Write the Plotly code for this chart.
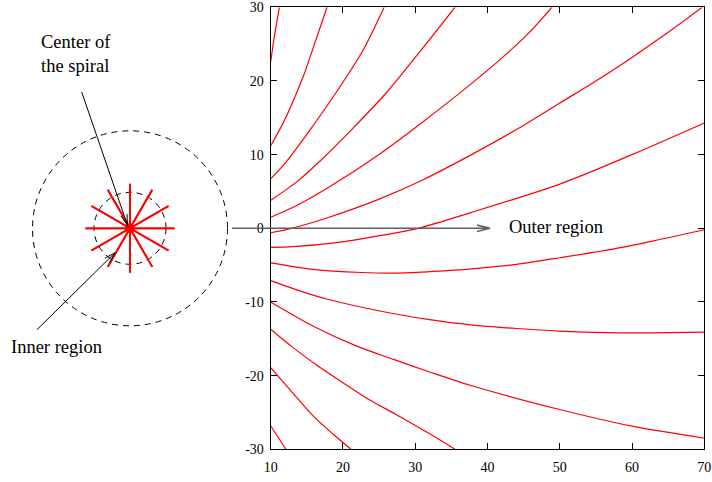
import math
import plotly.graph_objects as go

# ---- spiral arms seen in the outer region (x, y pairs per arm) ----
arm01_x = [10, 10.5, 11.2]
arm01_y = [22.6, 26.0, 30.0]
arm02_x = [10, 11.3, 12.4, 14.5, 16.4, 17.8]
arm02_y = [11.2, 13.5, 15.7, 20.6, 26.0, 30.0]
arm03_x = [10, 12.2, 15.4, 19.1, 22.8, 25.7]
arm03_y = [6.7, 9.1, 13.3, 18.5, 24.2, 30.0]
arm04_x = [10, 13.6, 16.8, 21.2, 26.0, 30.5, 35.5]
arm04_y = [3.8, 6.3, 9.1, 13.4, 18.4, 23.8, 30.0]
arm05_x = [10, 13.6, 17.75, 25.1, 31.0, 37.6, 42.2, 45.9, 48.9]
arm05_y = [1.5, 3.1, 5.4, 10.1, 14.4, 19.5, 23.3, 26.7, 30.0]
arm06_x = [10, 12.9, 17.75, 25.1, 31.1, 37.6, 44, 50, 55, 60, 65, 69.7]
arm06_y = [-0.6, 0.0, 1.4, 4.0, 6.6, 9.9, 13.4, 17.0, 20.0, 23.2, 26.6, 30.0]
arm07_x = [10, 13.1, 19.1, 25.1, 30.4, 37.6, 50, 60, 70]
arm07_y = [-2.6, -2.5, -1.95, -1.0, 0.0, 2.1, 6.0, 10.0, 14.3]
arm08_x = [10, 15.2, 22.6, 28.6, 34.4, 39, 44, 50, 56.9, 63, 70]
arm08_y = [-4.7, -5.5, -6.0, -6.05, -5.75, -5.4, -4.9, -4.0, -2.9, -1.7, -0.2]
arm09_x = [10, 13.6, 17.75, 26.5, 32, 37.6, 44, 50, 58.3, 70]
arm09_y = [-7.1, -8.35, -9.6, -11.5, -12.4, -13.1, -13.6, -13.95, -14.2, -14.1]
arm10_x = [10, 15.9, 21.9, 27, 32, 37.6, 50, 60.2, 70]
arm10_y = [-10.0, -13.3, -16.0, -17.8, -19.5, -21.3, -24.6, -26.9, -28.5]
arm11_x = [10, 11.7, 13.1, 16.4, 20.2, 23.7, 27.4, 32, 35.5]
arm11_y = [-13.7, -15.1, -16.2, -18.6, -21.1, -23.3, -25.3, -27.9, -30.0]
arm12_x = [10, 13.1, 15.9, 18.7, 21.1]
arm12_y = [-18.9, -22.4, -25.5, -28.0, -30.0]
arm13_x = [10, 12.1]
arm13_y = [-26.8, -30.0]

x_ticks = [10, 20, 30, 40, 50, 60, 70]
x_tick_labels = ["10", "20", "30", "40", "50", "60", "70"]
y_ticks = [-30, -20, -10, 0, 10, 20, 30]
y_tick_labels = ["-30", "-20", "-10", "0", "10", "20", "30"]

arms = [
    (arm01_x, arm01_y), (arm02_x, arm02_y), (arm03_x, arm03_y),
    (arm04_x, arm04_y), (arm05_x, arm05_y), (arm06_x, arm06_y),
    (arm07_x, arm07_y), (arm08_x, arm08_y), (arm09_x, arm09_y),
    (arm10_x, arm10_y), (arm11_x, arm11_y), (arm12_x, arm12_y),
    (arm13_x, arm13_y),
]

W, H = 712, 482
SERIF = "Liberation Serif, Times New Roman, serif"
RED = "#ff0000"

fig = go.Figure()
for ax_, ay_ in arms:
    fig.add_trace(go.Scatter(
        x=ax_, y=ay_, mode="lines",
        line=dict(color=RED, width=1.2, shape="spline", smoothing=0.8),
        hoverinfo="skip", showlegend=False,
    ))

# ---- schematic of the spiral centre (pixel offsets around one anchor) ----
CX = 130 / W          # anchor x in paper units; anchor y is y=0 of the plot
R_OUTER, R_INNER, R_RAY, R_DOT, N_RAYS = 97.5, 36, 44.5, 4.5, 12

shapes = []


def pix(**kw):
    base = dict(xref="paper", yref="y", xsizemode="pixel", ysizemode="pixel",
                xanchor=CX, yanchor=0)
    base.update(kw)
    return base


for r in (R_OUTER, R_INNER):
    shapes.append(pix(type="circle", x0=-r, x1=r, y0=-r, y1=r,
                      line=dict(color="black", width=1, dash="6px,5px")))

for k in range(N_RAYS):
    a = 2 * math.pi * k / N_RAYS
    shapes.append(pix(type="line", x0=-R_RAY * math.cos(a), y0=-R_RAY * math.sin(a),
                      x1=R_RAY * math.cos(a), y1=R_RAY * math.sin(a),
                      line=dict(color=RED, width=1.8)))

shapes.append(pix(type="circle", x0=-R_DOT, x1=R_DOT, y0=-R_DOT, y1=R_DOT,
                  fillcolor=RED, line=dict(color=RED, width=1)))


def arrow(tail, head, color="black", width=1.0, head_len=11, head_half=3.2):
    dx, dy = head[0] - tail[0], head[1] - tail[1]
    n = math.hypot(dx, dy)
    ux, uy = dx / n, dy / n
    px_, py_ = -uy, ux
    bx, by = head[0] - ux * head_len, head[1] - uy * head_len
    p1 = (bx + px_ * head_half, by + py_ * head_half)
    p2 = (bx - px_ * head_half, by - py_ * head_half)
    path = (f"M{tail[0]},{tail[1]} L{head[0]},{head[1]} "
            f"M{p1[0]},{p1[1]} L{head[0]},{head[1]} L{p2[0]},{p2[1]}")
    shapes.append(pix(type="path", path=path, line=dict(color=color, width=width)))


# pointer to the centre, pointer to the inner region, and the outward axis
arrow((-48.3, 136.3), (-2.5, 3.0))
arrow((-93, -101.4), (-15, -24.4))
arrow((102, 0), (360, 0), color="#606060", width=1.6, head_len=13, head_half=3.2)

annotations = [
    dict(text="Center of<br>the spiral", x=39 / W, y=1 - 54 / H, xref="paper", yref="paper",
         xanchor="left", yanchor="middle", align="left", showarrow=False,
         font=dict(family=SERIF, size=18.5, color="black")),
    dict(text="Inner region", x=8.5 / W, y=1 - 347 / H, xref="paper", yref="paper",
         xanchor="left", yanchor="middle", align="left", showarrow=False,
         font=dict(family=SERIF, size=18.5, color="black")),
    dict(text="Outer region", x=507 / W, y=0, xref="paper", yref="y",
         xanchor="left", yanchor="middle", yshift=1, showarrow=False,
         font=dict(family=SERIF, size=18.5, color="black")),
]

axis_common = dict(
    showline=True, linecolor="black", linewidth=1.2, mirror="allticks",
    ticks="inside", ticklen=6, tickwidth=1, tickcolor="black",
    showgrid=False, zeroline=False, automargin=False,
    tickfont=dict(family=SERIF, size=14, color="black"),
)

fig.update_layout(
    width=W, height=H, autosize=False,
    margin=dict(l=0, r=0, t=0, b=0, pad=0, autoexpand=False),
    paper_bgcolor="white", plot_bgcolor="rgba(0,0,0,0)",
    xaxis=dict(domain=[270.7 / W, 704.3 / W], range=[10, 70],
               tickvals=x_ticks, ticktext=x_tick_labels,
               ticklabelstandoff=5, **axis_common),
    yaxis=dict(domain=[(H - 449.3) / H, (H - 7.3) / H], range=[-30, 30],
               tickvals=y_ticks, ticktext=y_tick_labels,
               ticklabelstandoff=3, **axis_common),
    shapes=shapes,
    annotations=annotations,
    showlegend=False,
)

fig.write_html("out.html")
